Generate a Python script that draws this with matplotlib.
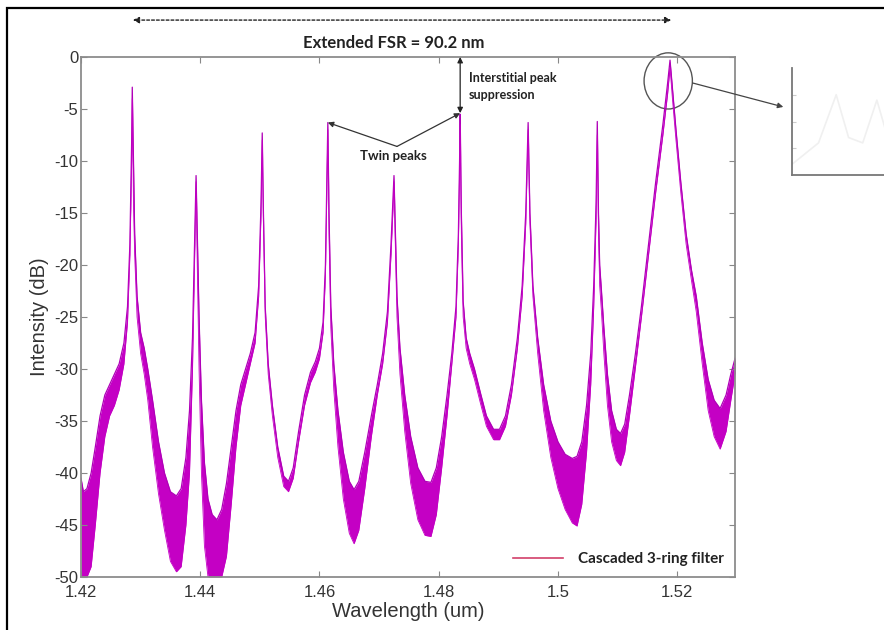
import numpy as np
import matplotlib.pyplot as plt
from matplotlib.patches import Ellipse, Rectangle
from matplotlib.lines import Line2D

plt.rcParams['axes.unicode_minus'] = False

# transmission spectrum: wavelength (um), band top / bottom (dB)
wl = [1.4200, 1.4204, 1.4210, 1.4217, 1.4224, 1.4232, 1.4240, 1.4248, 1.4256, 1.4264,
      1.4272, 1.4278, 1.4282, 1.4285, 1.4286,
      1.4288, 1.4290, 1.4294, 1.4300, 1.4306, 1.4312, 1.4320, 1.4330, 1.4340, 1.4350,
      1.4360, 1.4368, 1.4376, 1.4382, 1.4387, 1.4390, 1.4393,
      1.4395, 1.4398, 1.4402, 1.4407, 1.4413, 1.4420, 1.4428, 1.4436, 1.4444, 1.4452,
      1.4460, 1.4468, 1.4476, 1.4484, 1.4492, 1.4498, 1.4502, 1.4504,
      1.4506, 1.4509, 1.4514, 1.4521, 1.4530, 1.4540, 1.4548, 1.4556, 1.4565, 1.4575,
      1.4585, 1.4593, 1.4600, 1.4606, 1.4610, 1.4612, 1.4614,
      1.4616, 1.4619, 1.4624, 1.4631, 1.4640, 1.4650, 1.4658, 1.4666, 1.4676, 1.4687,
      1.4697, 1.4706, 1.4714, 1.4720, 1.4723, 1.4725,
      1.4727, 1.4730, 1.4735, 1.4743, 1.4753, 1.4765, 1.4777, 1.4787, 1.4796, 1.4805,
      1.4814, 1.4822, 1.4829, 1.4833, 1.4835, 1.4836,
      1.4838, 1.4841, 1.4846, 1.4852, 1.4860, 1.4870, 1.4880, 1.4892, 1.4902, 1.4912,
      1.4922, 1.4932, 1.4940, 1.4946, 1.4950,
      1.4953, 1.4958, 1.4966, 1.4976, 1.4988, 1.5000, 1.5012, 1.5024, 1.5032, 1.5040,
      1.5048, 1.5055, 1.5060, 1.5064, 1.5066,
      1.5068, 1.5070, 1.5073, 1.5077, 1.5083, 1.5090, 1.5098, 1.5105, 1.5112, 1.5120,
      1.5130, 1.5140, 1.5152, 1.5164, 1.5176, 1.5184, 1.5188,
      1.5192, 1.5198, 1.5206, 1.5215, 1.5224, 1.5232, 1.5242, 1.5252, 1.5262, 1.5272,
      1.5282, 1.5290, 1.5297, 1.5300]
upper = [-40.5, -41.8, -41.5, -40.0, -37.5, -34.5, -32.5, -31.5, -30.5, -29.5,
         -27.5, -24.0, -18.0, -8.0, -2.9,
         -10.0, -17.0, -23.0, -26.5, -28.0, -30.0, -33.0, -37.0, -40.0, -41.8,
         -42.2, -41.5, -38.5, -34.0, -27.0, -19.0, -11.4,
         -17.0, -25.0, -33.0, -39.0, -42.5, -44.0, -44.5, -43.5, -41.0, -37.5,
         -34.0, -31.5, -30.0, -28.5, -26.5, -22.0, -14.0, -7.3,
         -15.0, -24.0, -29.5, -33.5, -37.5, -40.3, -40.8, -39.5, -36.0, -32.5,
         -30.3, -29.3, -28.0, -25.5, -20.0, -13.0, -6.3,
         -15.0, -24.0, -29.5, -34.0, -38.0, -40.8, -41.6, -40.8, -38.0, -34.5,
         -31.5, -28.5, -24.5, -18.0, -14.0, -11.4,
         -16.0, -23.0, -28.0, -32.5, -36.5, -39.5, -40.8, -40.9, -39.5, -36.5,
         -32.5, -28.5, -24.0, -17.0, -10.0, -5.5,
         -15.0, -23.5, -27.0, -28.5, -30.0, -32.3, -34.5, -35.8, -35.8, -34.5,
         -31.5, -27.0, -22.0, -15.0, -6.3,
         -15.0, -22.0, -27.0, -31.5, -35.0, -37.0, -38.2, -38.6, -38.4, -37.0,
         -33.5, -28.5, -22.0, -14.0, -6.2,
         -15.0, -20.0, -22.5, -26.0, -30.5, -34.0, -35.8, -36.2, -35.3, -32.5,
         -28.5, -24.0, -18.0, -12.0, -6.5, -2.5, -0.3,
         -3.0, -7.0, -12.0, -17.0, -20.5, -23.0, -27.5, -31.0, -33.0, -33.8,
         -32.5, -30.5, -29.0, -28.5]
lower = [-50.0, -50.0, -50.0, -49.0, -45.0, -40.0, -36.5, -34.5, -33.5, -32.0,
         -29.5, -25.5, -19.0, -10.0, -4.0,
         -14.0, -19.0, -25.0, -28.5, -30.5, -33.0, -37.5, -42.0, -45.5, -48.5,
         -49.5, -49.0, -45.0, -40.0, -30.0, -21.0, -12.0,
         -20.0, -30.0, -40.0, -47.0, -50.0, -50.0, -50.0, -50.0, -48.0, -43.0,
         -37.5, -33.5, -31.5, -29.5, -27.5, -23.0, -15.0, -8.0,
         -16.0, -25.0, -30.5, -34.5, -38.5, -41.3, -41.8, -40.5, -37.0, -33.5,
         -31.3, -30.3, -29.0, -26.5, -21.0, -14.0, -7.0,
         -17.0, -26.0, -32.0, -37.5, -42.5, -45.8, -46.8, -45.5, -41.5, -36.5,
         -32.5, -29.5, -25.5, -19.0, -15.0, -12.0,
         -17.5, -25.0, -30.5, -36.0, -41.0, -44.5, -46.0, -46.1, -44.0, -39.5,
         -34.5, -29.5, -25.0, -18.0, -11.0, -6.5,
         -17.0, -25.0, -28.0, -29.5, -31.0, -33.3, -35.5, -36.8, -36.8, -35.5,
         -32.5, -28.0, -23.0, -16.0, -7.0,
         -16.0, -23.0, -28.5, -34.0, -38.5, -41.5, -43.5, -44.8, -45.1, -43.0,
         -38.0, -31.5, -24.0, -15.5, -7.5,
         -17.0, -22.0, -24.5, -28.5, -33.5, -37.0, -38.8, -39.3, -38.0, -34.5,
         -29.8, -25.0, -19.0, -13.0, -7.5, -3.5, -1.0,
         -4.0, -8.0, -13.0, -18.0, -21.5, -24.5, -29.5, -34.0, -36.5, -37.7,
         -36.0, -33.0, -30.5, -30.0]

# faint zoomed view in the cut-off inset
ins_x = [0.0, 0.15, 0.25, 0.32, 0.40, 0.48, 0.55, 0.65, 0.8, 1.0]
ins_y = [0.1, 0.3, 0.75, 0.35, 0.3, 0.7, 0.3, 0.15, 0.1, 0.05]

xticks = [1.42, 1.44, 1.46, 1.48, 1.50, 1.52]
xtick_labels = ['1.42', '1.44', '1.46', '1.48', '1.5', '1.52']
yticks = list(range(-50, 1, 5))

mag = '#c400c4'
txt_font = ['Lato', 'DejaVu Sans']
ax_font = ['Liberation Sans', 'DejaVu Sans']

fig = plt.figure(figsize=(8.84, 6.3), dpi=100)
ax = fig.add_axes([81 / 884, 1 - 577 / 630, 654 / 884, 520 / 630])

ax.fill_between(wl, lower, upper, color=mag, lw=0)
ax.plot(wl, upper, color='#b000b8', lw=0.9)
ax.plot(wl, lower, color=mag, lw=0.6)

ax.set_xlim(1.42, 1.5297)
ax.set_ylim(-50, 0)
ax.set_xticks(xticks)
ax.set_xticklabels(xtick_labels)
ax.set_yticks(yticks)
ax.tick_params(direction='in', length=4, top=True, right=True, labelsize=12,
               labelcolor='#333333', color='#888888')
ax.tick_params(axis='x', pad=6)
ax.tick_params(axis='y', pad=2)
for s in ax.spines.values():
    s.set_color('#8c8c8c')
    s.set_linewidth(1.3)
for lab in ax.get_xticklabels() + ax.get_yticklabels():
    lab.set_family(ax_font)
ax.set_xlabel('Wavelength (um)', fontsize=14.5, color='#333333', family=ax_font,
              labelpad=1)
ax.set_ylabel('Intensity (dB)', fontsize=14.5, color='#333333', family=ax_font,
              labelpad=4)

# legend
h = Line2D([], [], color='#d2406a', lw=1.2)
leg = ax.legend([h], ['Cascaded 3-ring filter'], loc='lower right', frameon=False,
                handlelength=3.3, handletextpad=1.0, borderaxespad=0.3,
                prop={'family': txt_font, 'weight': 'bold', 'size': 11})
for t in leg.get_texts():
    t.set_color('#222222')

# FSR arrow and label
ax.annotate('', xy=(1.4287, 3.55), xytext=(1.5190, 3.55), annotation_clip=False,
            arrowprops=dict(arrowstyle='<|-|>', ls=(0, (2, 1.5)), lw=1.0, color='#222222',
                            mutation_scale=9, shrinkA=0, shrinkB=0))
ax.text(1.4725, 1.35, 'Extended FSR = 90.2 nm', ha='center', va='center', fontsize=12,
        weight='bold', family=txt_font, color='#222222', clip_on=False)

# interstitial peak suppression
ax.annotate('', xy=(1.4836, 0), xytext=(1.4836, -5.4), annotation_clip=False,
            arrowprops=dict(arrowstyle='<|-|>', lw=0.9, color='#222222',
                            mutation_scale=8, shrinkA=0, shrinkB=0))
ax.text(1.4850, -1.4, 'Interstitial peak\nsuppression', ha='left', va='top', fontsize=9,
        weight='bold', family=txt_font, color='#222222', linespacing=1.5)

# twin peaks
for px, py in [(1.4614, -6.3), (1.4836, -5.4)]:
    ax.annotate('', xy=(px, py), xytext=(1.4730, -8.6),
                arrowprops=dict(arrowstyle='-|>', lw=0.9, color='#333333',
                                mutation_scale=8, shrinkA=0, shrinkB=0))
ax.text(1.4724, -9.5, 'Twin peaks', ha='center', va='center', fontsize=9.5,
        weight='bold', family=txt_font, color='#222222')

# circle on the main peak and pointer to the inset
ax.add_patch(Ellipse((1.5185, -2.3), 0.0081, 5.4, fill=False, ec='#555555', lw=1.0,
                     clip_on=False))
ax.annotate('', xy=(1.5378, -4.8), xytext=(1.5226, -2.5), annotation_clip=False,
            arrowprops=dict(arrowstyle='-|>', lw=0.9, color='#444444',
                            mutation_scale=8, shrinkA=0, shrinkB=0))

# cut-off inset on the right
ins = fig.add_axes([792 / 884, 1 - 175 / 630, 0.2, 107 / 630])
ins.plot(ins_x, ins_y, color='#f0f0f0', lw=1.2)
ins.set_xlim(0, 1)
ins.set_ylim(0, 1)
ins.set_xticks([])
ins.set_yticks([0.25, 0.5, 0.75])
ins.tick_params(direction='in', length=3, color='#cccccc', labelleft=False)
for side in ['top', 'right']:
    ins.spines[side].set_visible(False)
for side in ['left', 'bottom']:
    ins.spines[side].set_color('#777777')
    ins.spines[side].set_linewidth(1.3)

# outer frame of the figure
fig.patches.append(Rectangle((7 / 884, -0.1), 1.2, 1.1 - 8 / 630, transform=fig.transFigure,
                             fill=False, ec='black', lw=1.6))

fig.savefig('out.png', dpi=100)
